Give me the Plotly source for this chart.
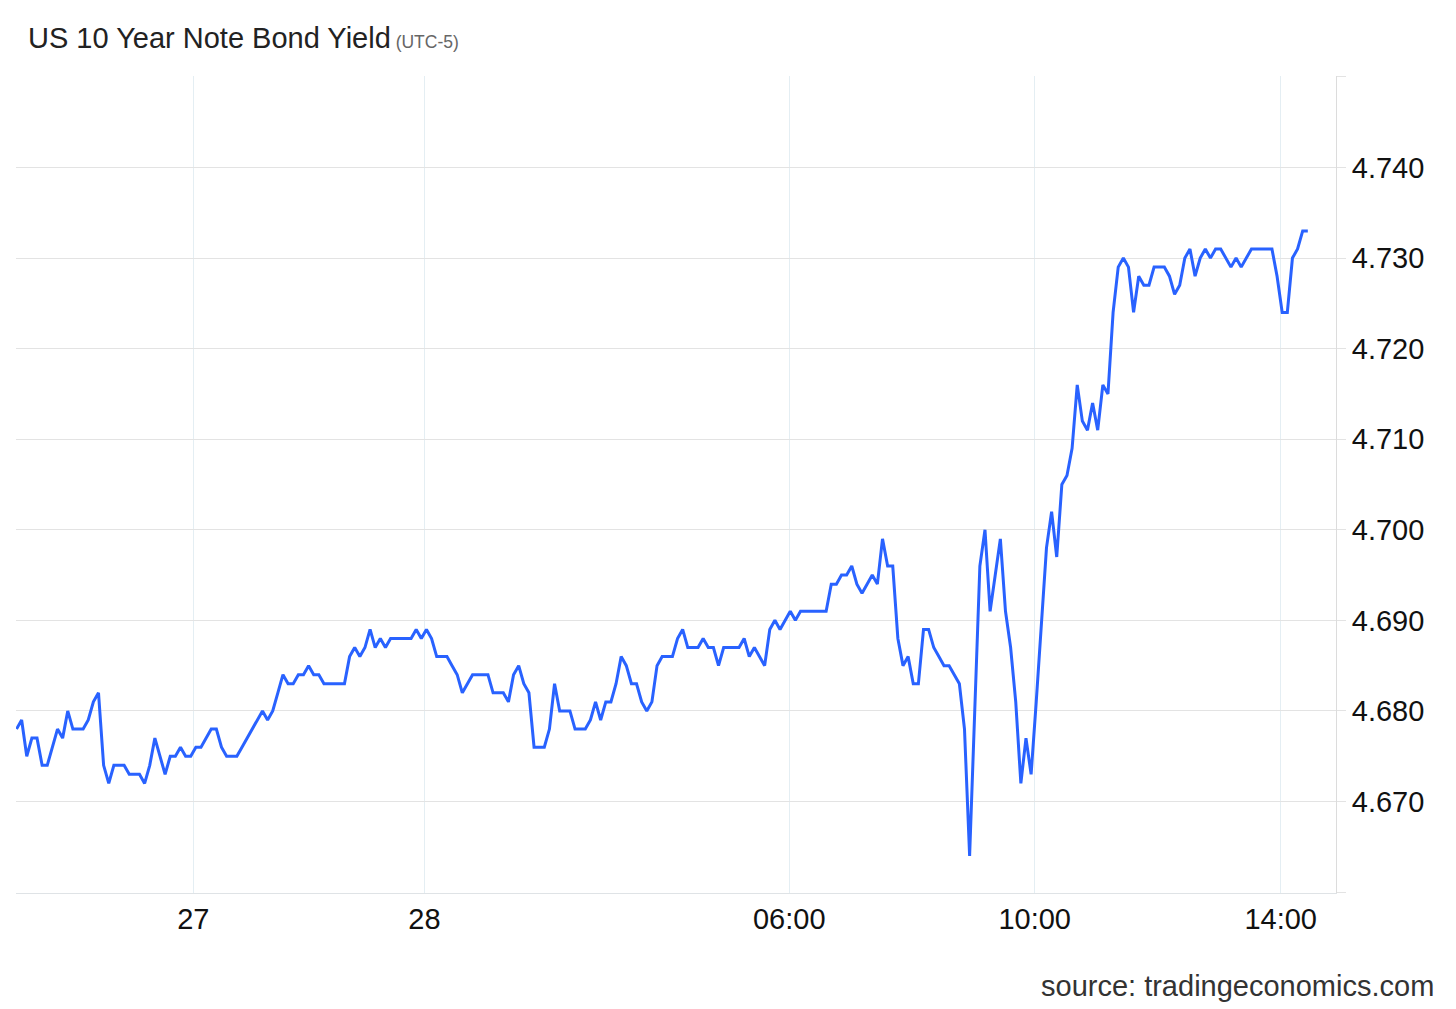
import plotly.graph_objects as go

# 10y yield, one point per bar, oldest first
yields = [
    4.678, 4.679, 4.675, 4.677, 4.677, 4.674, 4.674, 4.676, 4.678, 4.677,
    4.680, 4.678, 4.678, 4.678, 4.679, 4.681, 4.682, 4.674, 4.672, 4.674,
    4.674, 4.674, 4.673, 4.673, 4.673, 4.672, 4.674, 4.677, 4.675, 4.673,
    4.675, 4.675, 4.676, 4.675, 4.675, 4.676, 4.676, 4.677, 4.678, 4.678,
    4.676, 4.675, 4.675, 4.675, 4.676, 4.677, 4.678, 4.679, 4.680, 4.679,
    4.680, 4.682, 4.684, 4.683, 4.683, 4.684, 4.684, 4.685, 4.684, 4.684,
    4.683, 4.683, 4.683, 4.683, 4.683, 4.686, 4.687, 4.686, 4.687, 4.689,
    4.687, 4.688, 4.687, 4.688, 4.688, 4.688, 4.688, 4.688, 4.689, 4.688,
    4.689, 4.688, 4.686, 4.686, 4.686, 4.685, 4.684, 4.682, 4.683, 4.684,
    4.684, 4.684, 4.684, 4.682, 4.682, 4.682, 4.681, 4.684, 4.685, 4.683,
    4.682, 4.676, 4.676, 4.676, 4.678, 4.683, 4.680, 4.680, 4.680, 4.678,
    4.678, 4.678, 4.679, 4.681, 4.679, 4.681, 4.681, 4.683, 4.686, 4.685,
    4.683, 4.683, 4.681, 4.680, 4.681, 4.685, 4.686, 4.686, 4.686, 4.688,
    4.689, 4.687, 4.687, 4.687, 4.688, 4.687, 4.687, 4.685, 4.687, 4.687,
    4.687, 4.687, 4.688, 4.686, 4.687, 4.686, 4.685, 4.689, 4.690, 4.689,
    4.690, 4.691, 4.690, 4.691, 4.691, 4.691, 4.691, 4.691, 4.691, 4.694,
    4.694, 4.695, 4.695, 4.696, 4.694, 4.693, 4.694, 4.695, 4.694, 4.699,
    4.696, 4.696, 4.688, 4.685, 4.686, 4.683, 4.683, 4.689, 4.689, 4.687,
    4.686, 4.685, 4.685, 4.684, 4.683, 4.678, 4.664, 4.680, 4.696, 4.700,
    4.691, 4.695, 4.699, 4.691, 4.687, 4.681, 4.672, 4.677, 4.673, 4.681,
    4.689, 4.698, 4.702, 4.697, 4.705, 4.706, 4.709, 4.716, 4.712, 4.711,
    4.714, 4.711, 4.716, 4.715, 4.724, 4.729, 4.730, 4.729, 4.724, 4.728,
    4.727, 4.727, 4.729, 4.729, 4.729, 4.728, 4.726, 4.727, 4.730, 4.731,
    4.728, 4.730, 4.731, 4.730, 4.731, 4.731, 4.730, 4.729, 4.730, 4.729,
    4.730, 4.731, 4.731, 4.731, 4.731, 4.731, 4.728, 4.724, 4.724, 4.730,
    4.731, 4.733, 4.733,
]
bars = list(range(len(yields)))

# where the time labels fall, in bar units
tick_pos = [34.5, 79.6, 150.8, 198.7, 246.7]
tick_labels = ["27", "28", "06:00", "10:00", "14:00"]

y_ticks = [4.66, 4.67, 4.68, 4.69, 4.70, 4.71, 4.72, 4.73, 4.74, 4.75]
y_labels = ["", "4.670", "4.680", "4.690", "4.700", "4.710", "4.720", "4.730", "4.740", ""]

font = "Liberation Sans, Arial, sans-serif"

fig = go.Figure()
fig.add_trace(go.Scatter(
    x=bars,
    y=yields,
    mode="lines",
    line=dict(color="#2962ff", width=3),
    hoverinfo="y",
))

# the page has an 8px body margin, so the margins are pulled in by 8
fig.update_layout(
    width=1456,
    height=1009,
    margin=dict(l=8, r=128, t=68, b=124),
    paper_bgcolor="white",
    plot_bgcolor="white",
    showlegend=False,
    font=dict(family=font, size=29, color="#111111"),
    title=dict(
        text="US 10 Year Note Bond Yield"
             "<span style='font-size:17.5px;color:#666666'> (UTC-5)</span>",
        font=dict(family=font, size=29, color="#222222"),
        xref="container", yref="container",
        x=20 / 1456, xanchor="left",
        y=1 - 30 / 1009, yanchor="middle",
    ),
    annotations=[dict(
        text="source: tradingeconomics.com",
        xref="paper", yref="paper",
        x=1.0758, xanchor="right",
        y=-0.114, yanchor="middle",
        showarrow=False,
        font=dict(family=font, size=29, color="#333333"),
    )],
)

fig.update_xaxes(
    range=[-0.1, 257.5],
    tickmode="array",
    tickvals=tick_pos,
    ticktext=tick_labels,
    showgrid=True,
    gridcolor="#e4eef3",
    gridwidth=1,
    zeroline=False,
    showline=True,
    linecolor="#dfe3e6",
    linewidth=1,
    ticks="",
    tickfont=dict(family=font, size=29, color="#111111"),
)

fig.update_yaxes(
    side="right",
    range=[4.6599, 4.7501],
    tickmode="array",
    tickvals=y_ticks,
    ticktext=y_labels,
    showgrid=True,
    gridcolor="#e3e3e3",
    gridwidth=1,
    zeroline=False,
    showline=True,
    linecolor="#dcdcdc",
    linewidth=1,
    ticks="outside",
    ticklen=9,
    tickcolor="#e3e3e3",
    tickfont=dict(family=font, size=29, color="#111111"),
)

fig.write_html("out.html")
